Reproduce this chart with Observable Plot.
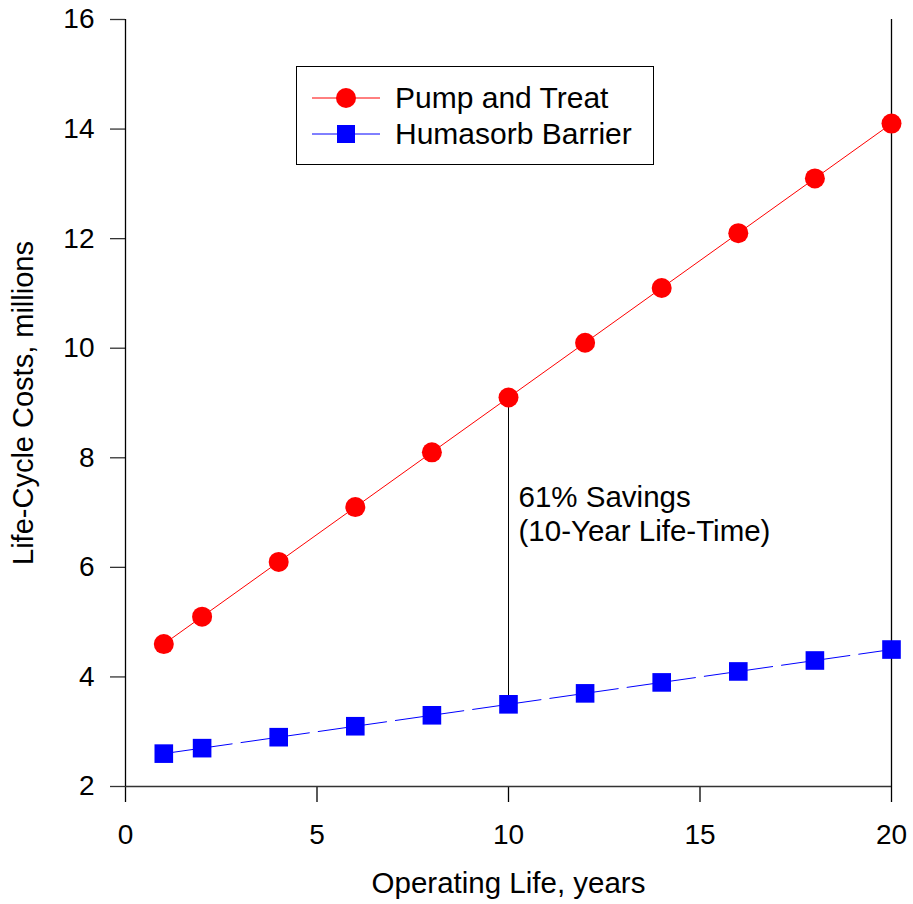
<!DOCTYPE html>
<html>
<head>
<meta charset="utf-8">
<script src="https://cdn.jsdelivr.net/npm/d3@7"></script>
<script src="https://cdn.jsdelivr.net/npm/@observablehq/plot@0.6"></script>
<style>
  html, body { margin: 0; padding: 0; background: #fff; }
  #wrap { position: relative; width: 913px; height: 904px; font-family: "Liberation Sans", Arial, sans-serif; }
  #legend { position: absolute; left: 296px; top: 66px; width: 356px; height: 97px; border: 1.3px solid #000; background: #fff; }
  #legend .row { position: absolute; left: 0; height: 36px; display: flex; align-items: center; }
  #legend .row span { font-size: 30px; color: #000; line-height: 36px; }
</style>
</head>
<body>
<div id="wrap"></div>
<script>
const years = [1, 2, 4, 6, 8, 10, 12, 14, 16, 18, 20];
const pumpTreat = [4.6, 5.1, 6.1, 7.1, 8.1, 9.1, 10.1, 11.1, 12.1, 13.1, 14.1];
const humasorb = [2.6, 2.7, 2.9, 3.1, 3.3, 3.5, 3.7, 3.9, 4.1, 4.3, 4.5];
const xTicks = [0, 5, 10, 15, 20];
const yTicks = [2, 4, 6, 8, 10, 12, 14, 16];
const seriesNames = ["Pump and Treat", "Humasorb Barrier"];
const annotationYear = 10;
const annotationText = "61% Savings\n(10-Year Life-Time)";

const pt = years.map((x, i) => ({x, y: pumpTreat[i]}));
const hb = years.map((x, i) => ({x, y: humasorb[i]}));
const ai = years.indexOf(annotationYear);

const font = "Liberation Sans, Arial, sans-serif";
const chart = Plot.plot({
  width: 913,
  height: 904,
  marginLeft: 125,
  marginRight: 22,
  marginTop: 19,
  marginBottom: 118,
  style: {fontFamily: font, background: "#fff", overflow: "visible", fontSize: "28px"},
  x: {domain: [0, 20]},
  y: {domain: [2, 16]},
  marks: [
    Plot.axisY({ticks: yTicks, tickSize: 15, tickPadding: 16, fontSize: 28, stroke: "#333", strokeWidth: 1.3,
      label: null}),
    Plot.axisX({ticks: xTicks, tickSize: 16, tickPadding: 22, fontSize: 28, stroke: "#000", strokeWidth: 1.3,
      label: null}),
    Plot.text(["Life-Cycle Costs, millions"], {frameAnchor: "left", textAnchor: "middle", lineAnchor: "middle",
      dx: -102, rotate: -90, fontSize: 29, fill: "#000"}),
    Plot.text(["Operating Life, years"], {frameAnchor: "bottom", dy: 106, fontSize: 29.5, fill: "#000"}),
    Plot.ruleY([2], {stroke: "#333", strokeWidth: 1.3}),
    Plot.ruleX([0], {stroke: "#000", strokeWidth: 1.3}),
    Plot.ruleX([20], {stroke: "#000", strokeWidth: 1.3}),
    Plot.ruleX([annotationYear], {y1: humasorb[ai], y2: pumpTreat[ai], stroke: "#000", strokeWidth: 1}),
    Plot.line(pt, {x: "x", y: "y", stroke: "#ff0000", strokeWidth: 1}),
    Plot.line(hb, {x: "x", y: "y", stroke: "#0000ff", strokeWidth: 1, strokeDasharray: "30,9"}),
    Plot.dot(pt, {x: "x", y: "y", r: 10, fill: "#ff0000", symbol: "circle"}),
    Plot.dot(hb, {x: "x", y: "y", r: 10.5, fill: "#0000ff", symbol: "square"}),
    Plot.text([annotationText], {x: annotationYear, y: 7.55, text: d => d, textAnchor: "start", dx: 10,
      fontSize: 29.5, fill: "#000", lineHeight: 1.16, lineAnchor: "top"})
  ]
});
const wrap = document.getElementById("wrap");
wrap.appendChild(chart);

const legend = document.createElement("div");
legend.id = "legend";
const colors = ["#ff0000", "#0000ff"];
seriesNames.forEach((name, i) => {
  const row = document.createElement("div");
  row.className = "row";
  row.style.top = (13 + i * 36) + "px";
  const ns = "http://www.w3.org/2000/svg";
  const s = document.createElementNS(ns, "svg");
  s.setAttribute("width", 83); s.setAttribute("height", 36);
  s.style.marginLeft = "15px";
  const l = document.createElementNS(ns, "line");
  l.setAttribute("x1", 0); l.setAttribute("x2", 68); l.setAttribute("y1", 18); l.setAttribute("y2", 18);
  l.setAttribute("stroke", colors[i]); l.setAttribute("stroke-width", 1);
  s.appendChild(l);
  if (i === 0) {
    const c = document.createElementNS(ns, "circle");
    c.setAttribute("cx", 34); c.setAttribute("cy", 18); c.setAttribute("r", 10); c.setAttribute("fill", colors[i]);
    s.appendChild(c);
  } else {
    const r = document.createElementNS(ns, "rect");
    r.setAttribute("x", 25); r.setAttribute("y", 9); r.setAttribute("width", 18); r.setAttribute("height", 18); r.setAttribute("fill", colors[i]);
    s.appendChild(r);
  }
  row.appendChild(s);
  const t = document.createElement("span");
  t.textContent = name;
  row.appendChild(t);
  legend.appendChild(row);
});
wrap.appendChild(legend);
</script>
</body>
</html>
